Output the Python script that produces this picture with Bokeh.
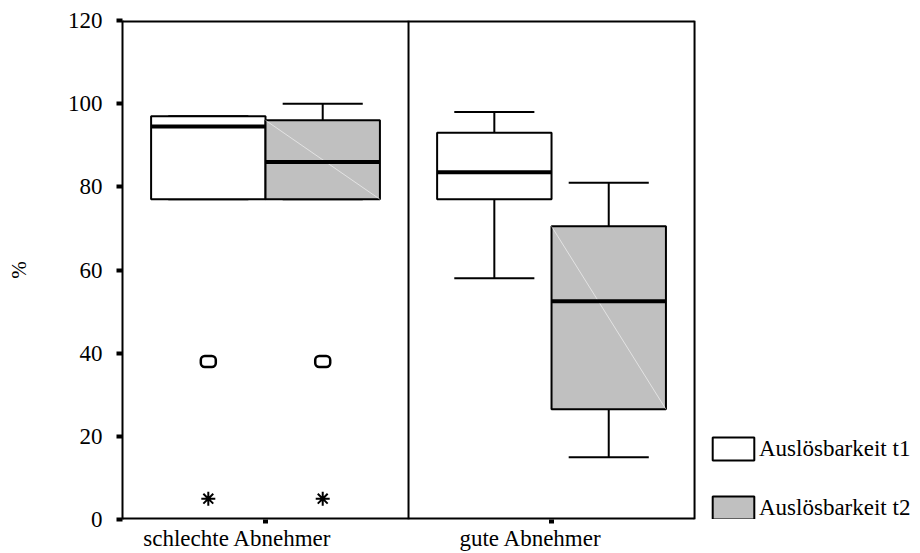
import math
from bokeh.plotting import figure
from bokeh.models import Range1d, FixedTicker, Legend, LegendItem, LinearAxis
from bokeh.embed import file_html
from bokeh.resources import INLINE

# Groups along the x axis and the two measurement series
groups = ["schlechte Abnehmer", "gute Abnehmer"]
group_pos = [0.5, 1.5]
series = ["Auslösbarkeit t1", "Auslösbarkeit t2"]

# Box statistics (%), one value per group
t1_low = [77, 58]
t1_q1 = [77, 77]
t1_median = [94.5, 83.5]
t1_q3 = [97, 93]
t1_high = [97, 98]

t2_low = [77, 15]
t2_q1 = [77, 26.5]
t2_median = [86, 52.5]
t2_q3 = [96, 70.5]
t2_high = [100, 81]

# Outliers (o) and extreme values (*): group index, series index, value
outlier_group = [0, 0]
outlier_series = [0, 1]
outlier_value = [38, 38]
extreme_group = [0, 0]
extreme_series = [0, 1]
extreme_value = [5, 5]

y_ticks = [0, 20, 40, 60, 80, 100, 120]

FONT = "Liberation Serif"
offsets = [-0.2, 0.2]
box_w = 0.4
cap_half = 0.14
fills = ["white", "#c0c0c0"]
X_MAX = 2.0          # right edge of the plotting box
X_VIEW = 2.79        # room on the right for the legend

p = figure(width=920, height=553, output_backend="svg", toolbar_location=None,
           x_range=Range1d(0, X_VIEW), y_range=Range1d(0, 120),
           x_axis_location=None,
           min_border_left=122, min_border_right=0,
           min_border_top=20, min_border_bottom=10)
p.background_fill_color = "white"
p.border_fill_color = "white"
p.xgrid.visible = False
p.ygrid.visible = False
p.outline_line_color = None

# box frame: bottom, top, right edge and the group divider
p.segment([0, 0], [0, 120], [X_MAX, X_MAX], [0, 120], line_color="black", line_width=4)
p.segment([1.0, X_MAX], [0, 0], [1.0, X_MAX], [120, 120], line_color="black", line_width=2)

stats = [
    (t1_low, t1_q1, t1_median, t1_q3, t1_high),
    (t2_low, t2_q1, t2_median, t2_q3, t2_high),
]

box_renderers = []
for s, (low, q1, med, q3, high) in enumerate(stats):
    xs = [g + offsets[s] for g in group_pos]
    # whiskers and caps
    p.segment(xs, q3, xs, high, line_color="black", line_width=2)
    p.segment(xs, low, xs, q1, line_color="black", line_width=2)
    p.segment([x - cap_half for x in xs], high, [x + cap_half for x in xs], high,
              line_color="black", line_width=2)
    p.segment([x - cap_half for x in xs], low, [x + cap_half for x in xs], low,
              line_color="black", line_width=2)
    r = p.vbar(x=xs, width=box_w, bottom=q1, top=q3, fill_color=fills[s],
               line_color="black", line_width=2)
    box_renderers.append(r)
    if s == 1:
        # faint diagonal across the shaded boxes
        p.segment([x - box_w / 2 for x in xs], q3, [x + box_w / 2 for x in xs], q1,
                  line_color="white", line_alpha=0.55, line_width=1)
    p.segment([x - box_w / 2 for x in xs], med, [x + box_w / 2 for x in xs], med,
              line_color="black", line_width=4)

# outliers and extremes
ox = [group_pos[g] + offsets[s] for g, s in zip(outlier_group, outlier_series)]
p.rect(ox, outlier_value, width=15, height=11, width_units="screen",
       height_units="screen", fill_color=None, line_color="black",
       line_width=2.5, border_radius=4)
ex = [group_pos[g] + offsets[s] for g, s in zip(extreme_group, extreme_series)]
p.scatter(ex, extreme_value, marker="asterisk", size=14, angle=math.pi / 2,
          line_color="black", line_width=2)

# y axis
p.yaxis.ticker = FixedTicker(ticks=y_ticks)
p.yaxis.axis_label = "%"
p.yaxis.axis_label_text_font = FONT
p.yaxis.axis_label_text_font_style = "normal"
p.yaxis.axis_label_text_font_size = "21px"
p.yaxis.axis_label_text_color = "black"
p.yaxis.axis_label_standoff = 34
p.yaxis.major_label_text_font = FONT
p.yaxis.major_label_text_font_size = "23px"
p.yaxis.major_label_text_color = "black"
p.yaxis.major_label_standoff = 14
p.yaxis.major_tick_in = 0
p.yaxis.major_tick_out = 6
p.yaxis.major_tick_line_color = "black"
p.yaxis.major_tick_line_width = 4
p.yaxis.minor_tick_line_color = None
p.yaxis.axis_line_color = "black"
p.yaxis.axis_line_width = 2

# x axis: tick marks at the group centres
tick_axis = LinearAxis(ticker=FixedTicker(ticks=group_pos),
                       major_label_overrides={0.5: "", 1.5: ""},
                       major_label_text_font_size="0px", major_label_standoff=0,
                       major_tick_in=0, major_tick_out=4, major_tick_line_width=5,
                       major_tick_line_color="black",
                       minor_tick_line_color=None, axis_line_color=None)
p.add_layout(tick_axis, "below")

# group names, set slightly left of the tick marks
label_x = [0.402, 1.427]
name_axis = LinearAxis(ticker=FixedTicker(ticks=label_x),
                       major_label_overrides={lx: n for lx, n in zip(label_x, groups)},
                       major_label_text_font=FONT, major_label_text_font_size="23px",
                       major_label_text_color="black", major_label_standoff=-4,
                       major_tick_line_color=None, minor_tick_line_color=None,
                       axis_line_color=None)
p.add_layout(name_axis, "below")

legend = Legend(items=[LegendItem(label=series[i], renderers=[box_renderers[i]])
                       for i in range(2)],
                location=(585, -3), orientation="vertical",
                glyph_width=52, glyph_height=29, label_standoff=0,
                label_height=29, spacing=30, padding=0, margin=0,
                border_line_color=None, background_fill_alpha=0,
                label_text_font=FONT, label_text_font_size="23px",
                label_text_color="black")
p.add_layout(legend)

open("out.html", "w").write(file_html(p, INLINE))
